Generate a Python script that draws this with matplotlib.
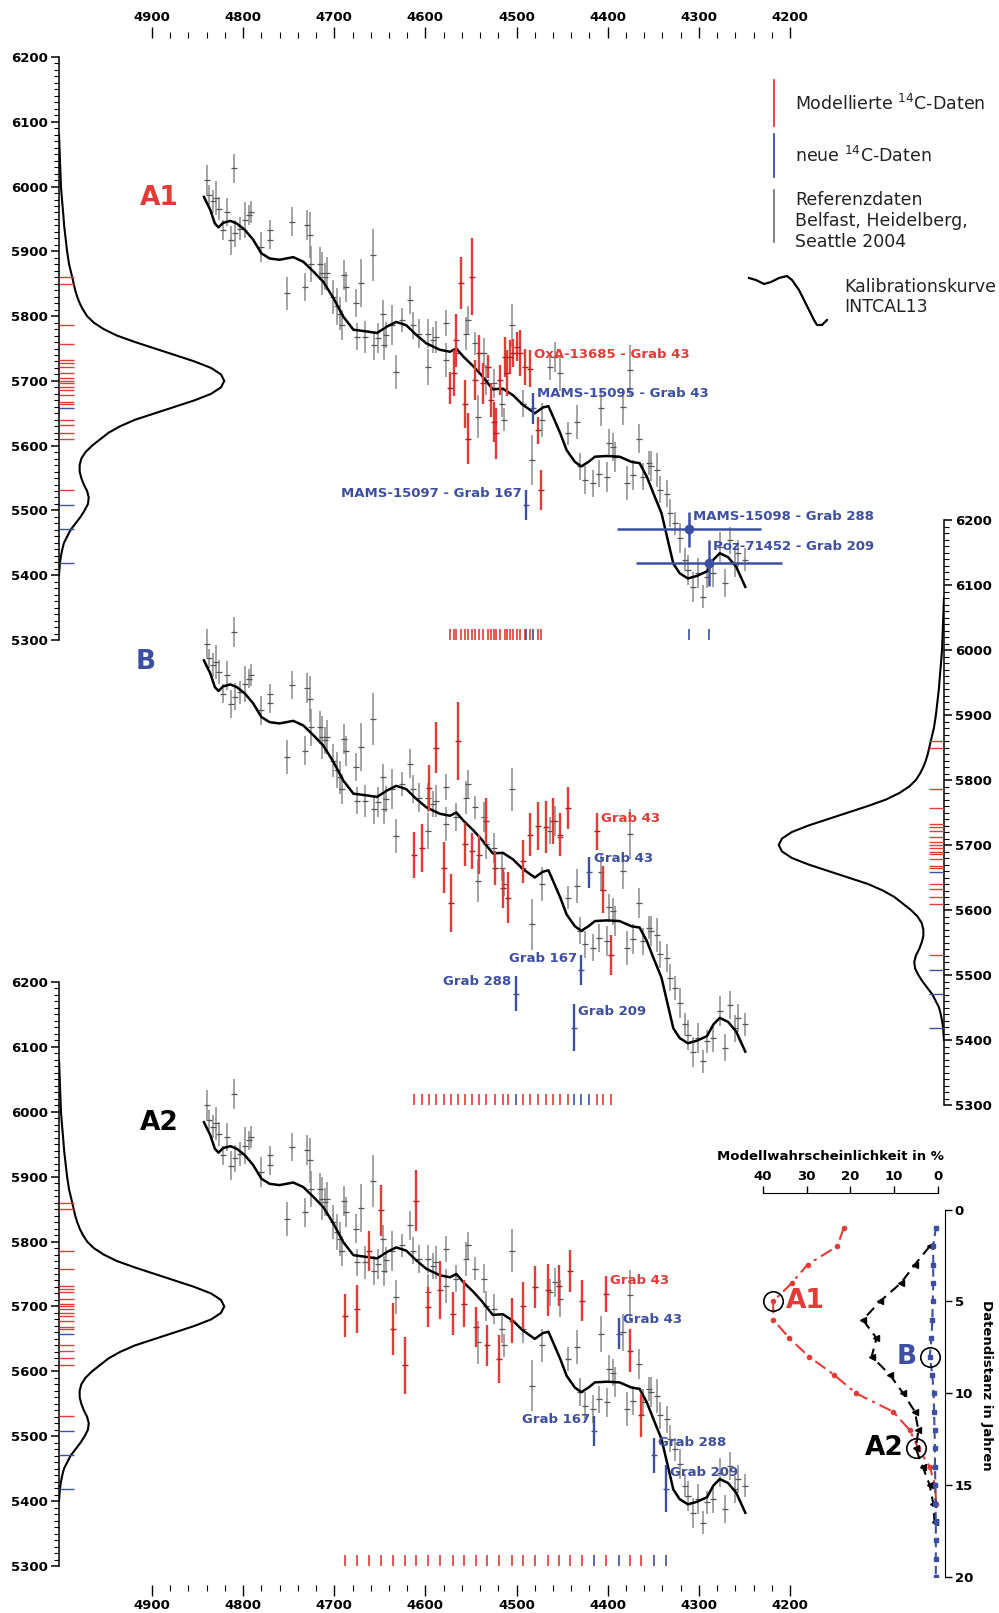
import matplotlib
matplotlib.use('Agg')
import matplotlib.pyplot as plt
from matplotlib.lines import Line2D
from matplotlib.ticker import MultipleLocator

plt.rcParams['font.family'] = ['DejaVu Sans']

W, H = 999, 1613
RED = '#e33b36'
BLUE = '#3c4fa2'
GRAY = '#8a8a8a'

# Kalibrationskurve INTCAL13 (cal BP, 14C BP)
cal_x = [4843, 4836, 4831, 4827, 4822, 4814, 4807, 4798, 4789, 4780, 4771, 4760, 4745, 4734,
         4723, 4712, 4701, 4690, 4679, 4668, 4653, 4642, 4632, 4621, 4610, 4599, 4584, 4573,
         4566, 4558, 4547, 4538, 4526, 4515, 4504, 4493, 4480, 4471, 4465, 4460, 4452, 4445,
         4436, 4429, 4421, 4414, 4401, 4387, 4374, 4365, 4357, 4350, 4341, 4335, 4328, 4321,
         4312, 4302, 4291, 4284, 4277, 4268, 4259, 4249]
cal_y = [5984, 5964, 5943, 5937, 5944, 5947, 5943, 5933, 5918, 5897, 5889, 5887, 5891, 5884,
         5869, 5853, 5828, 5799, 5779, 5777, 5774, 5784, 5791, 5786, 5771, 5758, 5748, 5745,
         5750, 5737, 5722, 5708, 5687, 5688, 5678, 5663, 5650, 5659, 5661, 5645, 5619, 5593,
         5575, 5568, 5575, 5583, 5584, 5583, 5575, 5573, 5552, 5527, 5496, 5460, 5418, 5403,
         5395, 5399, 5406, 5424, 5434, 5428, 5413, 5382]

# Referenzdaten Belfast, Heidelberg, Seattle 2004
ref_x = [4840, 4837, 4833, 4830, 4827, 4822, 4818, 4813, 4810, 4809,
         4803, 4798, 4793, 4791, 4780, 4771, 4771, 4752, 4746, 4732,
         4730, 4727, 4725, 4716, 4713, 4710, 4708, 4701, 4697, 4694,
         4692, 4689, 4687, 4676, 4675, 4671, 4666, 4658, 4656, 4652,
         4647, 4645, 4643, 4637, 4632, 4626, 4617, 4614, 4607, 4597,
         4597, 4592, 4588, 4577, 4577, 4566, 4555, 4553, 4546, 4542,
         4536, 4533, 4525, 4516, 4514, 4505,
         4493, 4483, 4472, 4463, 4458, 4452, 4443, 4434, 4430, 4425,
         4416, 4410, 4407, 4401, 4399, 4394, 4392, 4383, 4379, 4376,
         4372, 4366, 4361, 4355, 4352, 4346, 4343, 4335, 4332, 4326,
         4321, 4315, 4312, 4306, 4301, 4295, 4291, 4284, 4277, 4271,
         4266, 4260, 4257, 4249]
ref_y = [6010, 5987, 5977, 5982, 5966, 5933, 5961, 5917, 6028, 5928,
         5935, 5948, 5956, 5961, 5907, 5933, 5918, 5835, 5946, 5845,
         5941, 5925, 5881, 5881, 5866, 5861, 5866, 5830, 5815, 5804,
         5786, 5863, 5845, 5820, 5768, 5851, 5768, 5894, 5755, 5766,
         5804, 5755, 5771, 5786, 5714, 5794, 5825, 5786, 5773, 5773,
         5722, 5763, 5768, 5789, 5732, 5743, 5773, 5794, 5758, 5645,
         5743, 5701, 5696, 5665, 5640, 5786,
         5665, 5578, 5640, 5722, 5737, 5712, 5619, 5637, 5568, 5547,
         5542, 5557, 5658, 5552, 5604, 5598, 5583, 5660, 5542, 5717,
         5555, 5611, 5552, 5573, 5568, 5562, 5532, 5526, 5496, 5480,
         5457, 5424, 5408, 5382, 5403, 5367, 5398, 5403, 5444, 5388,
         5454, 5418, 5434, 5424]
ref_e = [23, 15, 18, 26, 18, 15, 22, 22, 23, 21,
         18, 28, 15, 17, 23, 15, 15, 26, 22, 22,
         23, 35, 28, 25, 33, 21, 26, 26, 28, 26,
         23, 23, 23, 22, 21, 37, 25, 40, 22, 23,
         21, 23, 20, 31, 26, 18, 22, 21, 22, 22,
         28, 20, 25, 20, 26, 21, 26, 21, 18, 33,
         23, 23, 23, 21, 18, 33,
         21, 39, 26, 21, 23, 28, 18, 26, 21, 21,
         21, 21, 28, 23, 21, 21, 23, 28, 26, 39,
         23, 23, 21, 18, 23, 26, 21, 21, 21, 18,
         23, 18, 23, 23, 23, 18, 18, 21, 23, 21,
         21, 21, 21, 18]

# modellierte 14C-Daten, Modell A1
a1_x = [4573, 4569, 4566, 4561, 4557, 4553, 4549, 4546, 4541, 4537, 4531, 4528, 4525,
        4522, 4518, 4513, 4510, 4507, 4504, 4500, 4496, 4491, 4485, 4477, 4473]
a1_y = [5689, 5712, 5763, 5851, 5665, 5611, 5861, 5701, 5743, 5696, 5722, 5670, 5637,
        5619, 5701, 5737, 5712, 5737, 5743, 5753, 5743, 5722, 5719, 5624, 5532]
a1_e = [24, 36, 41, 40, 37, 40, 60, 31, 28, 31, 18, 26, 31,
        39, 23, 31, 36, 26, 21, 23, 36, 28, 28, 21, 31]

# Modell B
b_x = [4613, 4604, 4596, 4588, 4580, 4572, 4564, 4557, 4549, 4541, 4533, 4524,
       4515, 4509, 4493, 4485, 4476, 4468, 4460, 4452, 4444, 4412, 4405, 4396]
b_y = [5685, 5696, 5788, 5850, 5665, 5611, 5860, 5701, 5691, 5685, 5737, 5665,
       5634, 5619, 5675, 5716, 5729, 5727, 5737, 5716, 5757, 5721, 5631, 5531]
b_e = [35, 37, 35, 39, 39, 45, 60, 33, 28, 30, 35, 26,
       31, 39, 33, 33, 37, 40, 35, 33, 33, 28, 36, 31]

# Modell A2
a2_x = [4688, 4675, 4662, 4649, 4635, 4622, 4610, 4597, 4584, 4570, 4558, 4545,
        4532, 4519, 4505, 4493, 4480, 4466, 4453, 4441, 4428, 4402, 4376, 4363]
a2_y = [5686, 5696, 5786, 5848, 5665, 5609, 5863, 5699, 5725, 5689, 5704, 5668,
        5640, 5619, 5678, 5701, 5730, 5725, 5732, 5755, 5709, 5719, 5632, 5532]
a2_e = [33, 37, 31, 39, 40, 44, 47, 31, 45, 33, 36, 31,
        32, 37, 35, 36, 33, 40, 32, 32, 32, 28, 33, 33]

# neue 14C-Daten
new_lab = ['MAMS-15095', 'MAMS-15097', 'MAMS-15098', 'Poz-71452']
new_grab = ['Grab 43', 'Grab 167', 'Grab 288', 'Grab 209']
new_c14 = [5658, 5508, 5471, 5419]
new_err = [24, 23, 27, 36]
new_lab_y = [5680, 5526, 5490, 5444]
new_a1_x = [4482, 4490, 4311, 4289]
new_a1_xerr = [0, 0, 79, 80]
new_b_x = [4420, 4429, 4501, 4437]
new_a2_x = [4388, 4415, 4349, 4336]

red_lab_y = 5740

# Summenwahrscheinlichkeit (relativ, %) am Rand
dens_c14 = [6080, 6060, 6040, 6020, 6000, 5980, 5960, 5940, 5920, 5900, 5880, 5860,
            5840, 5830, 5820, 5810, 5800, 5790, 5780, 5770, 5760, 5750, 5740, 5730,
            5720, 5710, 5700, 5690, 5680, 5670, 5660, 5650, 5640, 5630, 5620, 5610,
            5600, 5590, 5580, 5570, 5560, 5550, 5540, 5530, 5520, 5510, 5500, 5490,
            5480, 5470, 5460, 5450, 5440, 5430, 5420, 5410, 5400]
dens_val = [0, 0.3, 0.6, 0.9, 1.2, 1.8, 2.5, 3.1, 4.0, 4.9, 6.1, 8.0,
            9.8, 11, 12.5, 14.5, 17, 21, 27, 35, 46, 58, 70, 82,
            92, 98, 100, 98, 92, 82, 70, 58, 46, 37, 30, 25,
            20, 16, 13.5, 12.5, 12.5, 13.5, 15, 17, 18, 17.5, 15.5, 13,
            10, 7, 5, 3, 2, 1.2, 0.6, 0.3, 0]
dens_red = [5860, 5850, 5786, 5757, 5732, 5727, 5722, 5712, 5704, 5700, 5696, 5690,
            5686, 5678, 5668, 5665, 5640, 5632, 5620, 5610, 5531]

# Modellwahrscheinlichkeit vs. Datendistanz
dist_a1 = list(range(1, 17))
prob_a1 = [21.5, 23.0, 29.8, 33.4, 37.7, 37.6, 34.0, 29.5, 23.7, 18.7, 10.2, 6.4, 4.4, 1.8, 0.6, 0.3]
dist_a2 = list(range(2, 18))
prob_a2 = [1.8, 5.2, 8.4, 13.2, 17.1, 14.0, 15.1, 10.9, 7.9, 5.2, 4.4, 5.0, 3.4, 1.8, 1.0, 0.7]
dist_b = list(range(1, 21))
prob_b = [0.4, 1.0, 1.0, 1.0, 1.1, 1.2, 1.4, 1.8, 1.2, 0.9, 0.8, 0.7, 0.6, 0.6, 0.5, 0.5, 0.4, 0.4, 0.4, 0.4]

# Symbol der Kalibrationskurve in der Legende
legc_x = [0, 7, 15, 22, 30, 38, 43, 50, 55, 60, 65, 68, 73, 78]
legc_y = [0, 2, 6, 4, 0, -2, 2, 12, 22, 32, 42, 47, 47, 42]

fig = plt.figure(figsize=(W / 100, H / 100), dpi=100)


def box(x0, y0, x1, y1):
    return fig.add_axes([x0 / W, 1 - y1 / H, (x1 - x0) / W, (y1 - y0) / H])


def bold(labels):
    for t in labels:
        t.set_fontweight('bold')


def panel(top, bot, side, rx, ry, re, bx, bxerr, red_lab_x, red_text, blue_texts, blue_sides,
          tag, tag_color, tag_x):
    ax = box(59, top, 944, bot)
    ax.patch.set_alpha(0)
    ax.set_xlim(5002, 4031)
    ax.set_ylim(5300, 6200)
    for s in ax.spines:
        ax.spines[s].set_visible(s == side)
    ax.spines[side].set_linewidth(1.1)
    ax.xaxis.set_visible(False)
    ax.yaxis.set_ticks_position(side)
    ax.set_yticks(range(5300, 6201, 100))
    ax.yaxis.set_minor_locator(MultipleLocator(10))
    ax.tick_params(axis='y', which='major', length=6, width=1.1, labelsize=9.5, pad=2)
    ax.tick_params(axis='y', which='minor', length=3.5, width=0.8)
    bold(ax.get_yticklabels())

    # Referenzdaten + Kurve
    ax.errorbar(ref_x, ref_y, yerr=ref_e, fmt='none', ecolor=GRAY, elinewidth=1.1)
    ax.plot(ref_x, ref_y, '_', color='#555555', ms=4, mew=0.9)
    ax.plot(cal_x, cal_y, color='black', lw=1.8, solid_joinstyle='round')

    # modellierte Daten
    ax.errorbar(rx, ry, yerr=re, fmt='none', ecolor=RED, elinewidth=1.7)
    ax.plot(rx, ry, '_', color='#b02020', ms=4, mew=1)

    # neue Daten
    for i in range(4):
        if bxerr[i] > 0:
            ax.errorbar(bx[i], new_c14[i], yerr=new_err[i], xerr=bxerr[i], fmt='o', color=BLUE,
                        ms=6, elinewidth=1.8)
        else:
            ax.errorbar(bx[i], new_c14[i], yerr=new_err[i], fmt='_', color=BLUE, ms=4,
                        elinewidth=1.7)
        right = blue_sides[i] == 'r'
        ax.annotate(blue_texts[i], (bx[i], new_lab_y[i]), xytext=(3 if right else -3, 0),
                    textcoords='offset points', ha='left' if right else 'right', va='center',
                    color=BLUE, fontsize=9.5, fontweight='bold')
    ax.annotate(red_text, (red_lab_x, red_lab_y), xytext=(3, 0), textcoords='offset points',
                ha='left', va='center', color=RED, fontsize=9.5, fontweight='bold')

    # Positionsstriche
    ax.vlines(rx, 5297, 5317, color=RED, lw=1.2)
    ax.vlines(bx, 5297, 5317, color=BLUE, lw=1.2)

    ax.text(tag_x, 5982, tag, color=tag_color, fontsize=19, fontweight='bold',
            ha='center', va='center')

    # Summenkurve am Rand
    if side == 'left':
        dax = box(59, top, 259, bot)
        dax.set_xlim(0, 121)
    else:
        dax = box(744, top, 944, bot)
        dax.set_xlim(121, 0)
    dax.set_ylim(5300, 6200)
    dax.axis('off')
    dax.plot(dens_val, dens_c14, color='black', lw=1.5, solid_joinstyle='round')
    dax.hlines(dens_red, 0, 9, color=RED, lw=1)
    dax.hlines(new_c14, 0, 9, color=BLUE, lw=1)
    return ax


panel(57, 640, 'left', a1_x, a1_y, a1_e, new_a1_x, new_a1_xerr, 4485,
      'OxA-13685 - Grab 43', [l + ' - ' + g for l, g in zip(new_lab, new_grab)],
      ['r', 'l', 'r', 'r'], 'A1', RED, 4892)
panel(520, 1105, 'right', b_x, b_y, b_e, new_b_x, [0, 0, 0, 0], 4412,
      'Grab 43', new_grab, ['r', 'l', 'l', 'r'], 'B', BLUE, 4907)
panel(982, 1566, 'left', a2_x, a2_y, a2_e, new_a2_x, [0, 0, 0, 0], 4402,
      'Grab 43', new_grab, ['r', 'l', 'r', 'r'], 'A2', 'black', 4892)

# Kalenderachsen oben und unten
for y0, pos in [(38, 'top'), (1584, 'bottom')]:
    tax = box(152, y0, 790, y0 + 1)
    tax.patch.set_alpha(0)
    tax.set_xlim(4900, 4200)
    for s in tax.spines:
        tax.spines[s].set_visible(False)
    tax.yaxis.set_visible(False)
    tax.xaxis.set_ticks_position(pos)
    tax.set_xticks(range(4900, 4199, -100))
    tax.xaxis.set_minor_locator(MultipleLocator(20))
    tax.tick_params(axis='x', which='major', length=8, width=1, labelsize=9.5, pad=2)
    tax.tick_params(axis='x', which='minor', length=4, width=0.8)
    bold(tax.get_xticklabels())

# Legende
leg = [(RED, 80, 126, 104, 'Modellierte $^{14}$C-Daten'),
       (BLUE, 134, 177, 156, 'neue $^{14}$C-Daten'),
       ('#777777', 190, 242, 221, 'Referenzdaten\nBelfast, Heidelberg,\nSeattle 2004')]
for col, y0, y1, yt, txt in leg:
    fig.add_artist(Line2D([774 / W, 774 / W], [1 - y0 / H, 1 - y1 / H], color=col, lw=1.3))
    fig.text(795 / W, 1 - yt / H, txt, fontsize=12.5, va='center', ha='left', color='#222222',
             linespacing=1.2)
lax = box(747, 274, 828, 328)
lax.axis('off')
lax.plot(legc_x, legc_y, color='black', lw=1.6, solid_joinstyle='round')
lax.set_xlim(-2, 79)
lax.set_ylim(50, -4)
fig.text(844 / W, 1 - 297 / H, 'Kalibrationskurve\nINTCAL13', fontsize=12.5, va='center',
         ha='left', color='#222222', linespacing=1.1)

# Modellwahrscheinlichkeit
pax = box(763, 1193, 945, 1577)
pax.patch.set_alpha(0)
pax.set_xlim(40, -1.7)
pax.set_ylim(20, -0.9)
pax.spines['left'].set_visible(False)
pax.spines['bottom'].set_visible(False)
pax.spines['top'].set_bounds(0, 40)
pax.spines['right'].set_bounds(0, 20)
pax.xaxis.set_ticks_position('top')
pax.yaxis.set_ticks_position('right')
pax.set_xticks([40, 30, 20, 10, 0])
pax.set_yticks([0, 5, 10, 15, 20])
pax.tick_params(length=5, width=1, labelsize=9.5, pad=2)
bold(pax.get_xticklabels())
bold(pax.get_yticklabels())
pax.set_xlabel('Modellwahrscheinlichkeit in %', fontsize=9.5, fontweight='bold')
pax.xaxis.set_label_position('top')
pax.xaxis.set_label_coords(0.37, 1.085)
pax.set_ylabel('Datendistanz in Jahren', fontsize=9.5, fontweight='bold', rotation=-90,
               labelpad=14)
pax.yaxis.set_label_position('right')

pax.plot(prob_a1, dist_a1, color=RED, lw=1.5, ls=(0, (6, 2.5, 1.5, 2.5)), marker='o', ms=3)
pax.plot(prob_a2, dist_a2, color='black', lw=1.5, ls=(0, (5, 3)), marker='<', ms=4)
pax.plot(prob_b, dist_b, color=BLUE, lw=1.5, ls=(0, (4, 2.5)), marker='s', ms=2.5)
best = [(prob_a1[4], dist_a1[4], 'A1', RED, 'l'), (prob_b[7], dist_b[7], 'B', BLUE, 'r'),
        (prob_a2[11], dist_a2[11], 'A2', 'black', 'r')]
for px, py, t, c, s in best:
    pax.plot(px, py, 'o', mfc='none', mec='black', ms=14, mew=1.2)
    pax.annotate(t, (px, py), xytext=(9 if s == 'l' else -9, 0), textcoords='offset points',
                 ha='left' if s == 'l' else 'right', va='center', color=c, fontsize=19,
                 fontweight='bold')

fig.savefig('out.png', dpi=100)
